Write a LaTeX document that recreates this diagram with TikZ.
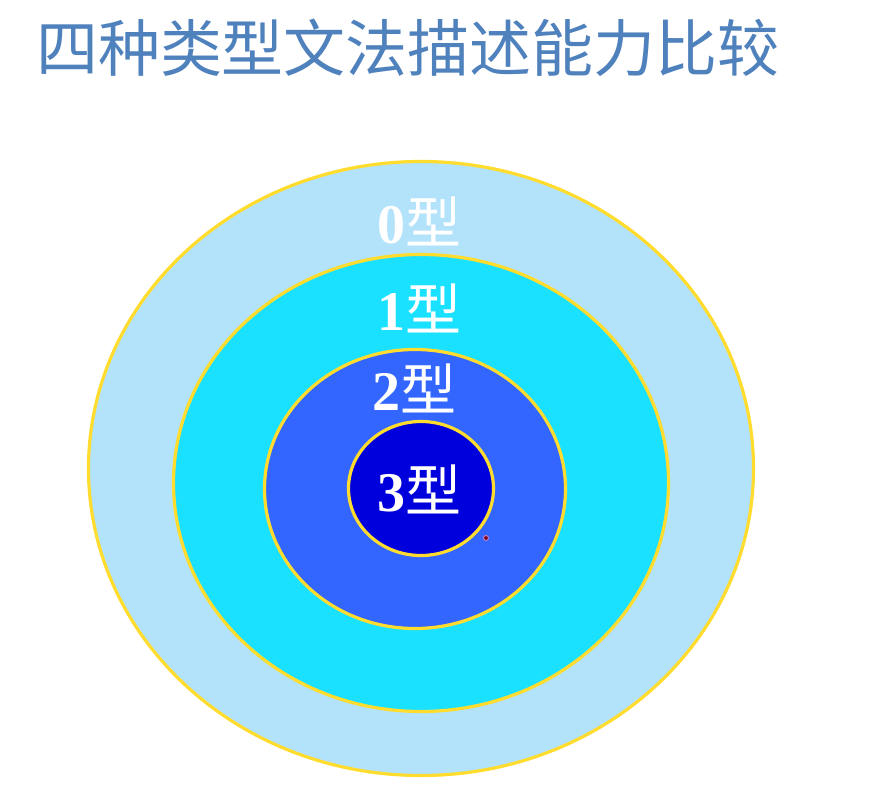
\documentclass[tikz,border=0pt]{standalone}
\usepackage{fontspec}
\setmainfont{Liberation Serif}
\newfontfamily\cjk{Noto Sans CJK SC}
\usetikzlibrary{shapes.geometric}

\definecolor{titleblue}{HTML}{4F81BD}
\definecolor{ringgold}{HTML}{FFDC2E}
\definecolor{zerofill}{HTML}{B3E2FB}
\definecolor{onefill}{HTML}{19E1FF}
\definecolor{twofill}{HTML}{3366FF}
\definecolor{threefill}{HTML}{0000DD}

\begin{document}
\begin{tikzpicture}[x=1pt, y=-1pt,
                    every node/.style={inner sep=0pt},
                    ring/.style={ellipse, draw=ringgold, line width=3.2pt},
                    typelab/.style={text=white, font=\fontsize{56}{56}\selectfont\bfseries}]
                    \useasboundingbox (0,0) rectangle (884,799);

                    % Title
                    \node[text=titleblue, font=\cjk\fontsize{62}{62}\selectfont] (title) at (408,48) {四种类型文法描述能力比较};

                    % Define rings (outer to inner)
                    \node[ring, fill=zerofill, minimum width=665pt, minimum height=614pt] (type0) at (421,468.5) {}; % 0型
                    \node[ring, fill=onefill, minimum width=495pt, minimum height=457pt] (type1) at (421,483) {}; % 1型
                    \node[ring, fill=twofill, minimum width=301pt, minimum height=279pt] (type2) at (415,489) {}; % 2型
                    \node[ring, fill=threefill, minimum width=145pt, minimum height=134pt] (type3) at (421,488.5) {}; % 3型

                    % Labels
                    \node[typelab] (lab0) at (419,221) {0{\cjk\mdseries 型}};
                    \node[typelab] (lab1) at (419,308) {1{\cjk\mdseries 型}};
                    \node[typelab] (lab2) at (414,388) {2{\cjk\mdseries 型}};
                    \node[typelab] (lab3) at (419,489) {3{\cjk\mdseries 型}};

                    % Pointer dot
                    \node[circle, draw=violet!50, fill=purple!60!black, line width=1pt, minimum size=5pt] (dot) at (486,538) {};
                \end{tikzpicture}
\end{document}
